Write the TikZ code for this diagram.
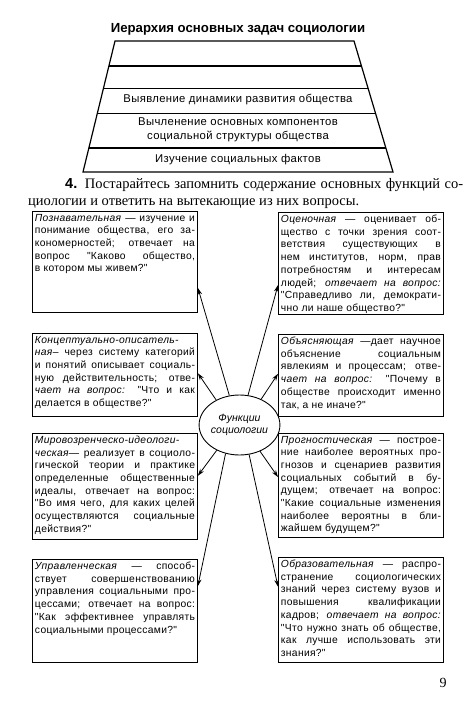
\documentclass[tikz,border=0pt]{standalone}
\usepackage{fontspec}
\setmainfont{Liberation Serif}
\setsansfont{Liberation Sans}
\newfontfamily\boxsf[LetterSpace=3]{Liberation Sans}
\usetikzlibrary{calc,arrows.meta,shapes.geometric}
\newcommand{\ftext}[2]{\parbox[c][#1][t]{160pt}{\tolerance=10000 \hyphenpenalty=10000 \exhyphenpenalty=10000 #2}}

\tikzset{
	fbox/.style={draw, line width=0.9pt, inner sep=2.5pt, anchor=north west, font=\boxsf\fontsize{10.3}{12.7}\selectfont},
	farrow/.style={line width=0.8pt, -{Stealth[length=7pt,width=4.5pt]}},
}

\begin{document}
\begin{tikzpicture}[x=1pt,y=-1pt]
			%%%%% START %%%%%
			\useasboundingbox[fill=white] (0,0) rectangle (474,725);
			
			\node[font=\sffamily\bfseries\fontsize{13.2}{15}\selectfont] (titul) at (238,29) {Иерархия основных задач социологии};
			
			\coordinate (tl) at (115,41);
			\coordinate (tr) at (354,41);
			\coordinate (bl) at (83,172);
			\coordinate (br) at (393,172);
			\draw[line width=1.2pt] (tl) -- (tr) -- (br) -- (bl) -- cycle;
			\foreach \f in {0.191,0.366,0.55,0.817}
				\draw[line width=1.1pt] ($(tl)!\f!(bl)$) -- ($(tr)!\f!(br)$);
			
			\node[font=\boxsf\fontsize{11.3}{13.5}\selectfont] (dinam) at (238,100) {Выявление динамики развития общества};
			\node[font=\boxsf\fontsize{11.3}{13.5}\selectfont, align=center] (komp) at (238,130) {Вычленение основных компонентов\\социальной структуры общества};
			\node[font=\boxsf\fontsize{11.3}{13.5}\selectfont] (fakt) at (238,160) {Изучение социальных фактов};
			
			\node[anchor=base west, inner sep=0pt, font=\fontsize{14.5}{17}\selectfont] (zad1) at (65,188) {\makebox[398pt][s]{\textsf{\bfseries 4.} Постарайтесь запомнить содержание основных функций со-}};
			\node[anchor=base west, inner sep=0pt, font=\fontsize{14.5}{17}\selectfont] (zad2) at (28,205) {циологии и ответить на вытекающие из них вопросы.};
			
			% left column
			\node[fbox] (pozn) at (32,211) {\ftext{96pt}{\emph{Познавательная} — изучение и\linebreak понимание общества, его за-\linebreak кономерностей; отвечает на\linebreak вопрос "Каково общество,\linebreak в котором мы живем?"}};
			\node[fbox] (konc) at (32,333) {\ftext{78pt}{\emph{Концептуально-описатель-}\linebreak \emph{ная}– через систему категорий\linebreak и понятий описывает социаль-\linebreak ную действительность; отве-\linebreak \emph{чает на вопрос:} "Что и как\linebreak делается в обществе?"}};
			\node[fbox] (mirov) at (32,433) {\ftext{101pt}{\emph{Мировозренческо-идеологи-}\linebreak \emph{ческая}— реализует в социоло-\linebreak гической теории и практике\linebreak определенные общественные\linebreak идеалы, отвечает на вопрос:\linebreak "Во имя чего, для каких целей\linebreak осуществляются социальные\linebreak действия?"}};
			\node[fbox] (uprav) at (32,559) {\ftext{98pt}{\emph{Управленческая} — способ-\linebreak ствует совершенствованию\linebreak управления социальными про-\linebreak цессами; отвечает на вопрос:\linebreak "Как эффективнее управлять\linebreak социальными процессами?"}};
			
			% right column
			\node[fbox] (ocen) at (278,212) {\ftext{97pt}{\emph{Оценочная} — оценивает об-\linebreak щество с точки зрения соот-\linebreak ветствия существующих в\linebreak нем институтов, норм, прав\linebreak потребностям и интересам\linebreak людей; \emph{отвечает на вопрос:}\linebreak "Справедливо ли, демократи-\linebreak чно ли наше общество?"}};
			\node[fbox] (obyas) at (278,334) {\ftext{77pt}{\emph{Объясняющая} —дает научное\linebreak объяснение социальным\linebreak явлекиям и процессам; отве-\linebreak \emph{чает на вопрос:} "Почему в\linebreak обществе происходит именно\linebreak так, а не иначе?"}};
			\node[fbox] (progn) at (278,433) {\ftext{99pt}{\emph{Прогностическая} — построе-\linebreak ние наиболее вероятных про-\linebreak гнозов и сценариев развития\linebreak социальных событий в бу-\linebreak дущем; отвечает на вопрос:\linebreak "Какие социальные изменения\linebreak наиболее вероятны в бли-\linebreak жайшем будущем?"}};
			\node[fbox] (obraz) at (278,557) {\ftext{100pt}{\emph{Образовательная} — распро-\linebreak странение социологических\linebreak знаний через систему вузов и\linebreak повышения квалификации\linebreak кадров; \emph{отвечает на вопрос:}\linebreak "Что нужно знать об обществе,\linebreak как лучше использовать эти\linebreak знания?"}};
			
			\node[draw, ellipse, line width=0.9pt, minimum width=67pt, minimum height=60pt, inner sep=0pt, align=center, font=\sffamily\itshape\fontsize{10.5}{12.5}\selectfont] (func) at (239.5,425) {Функции\\социологии};
			
			\draw[farrow] (func.109) -- ($(pozn.south east)!0.245!(pozn.north east)$);
			\draw[farrow] (func.133) -- ($(konc.south east)!0.52!(konc.north east)$);
			\draw[farrow] (func.228) -- ($(mirov.south east)!0.6!(mirov.north east)$);
			\draw[farrow] (func.244) -- ($(uprav.south east)!0.74!(uprav.north east)$);
			\draw[farrow] (func.74) -- ($(ocen.south west)!0.29!(ocen.north west)$);
			\draw[farrow] (func.50) -- ($(obyas.south west)!0.52!(obyas.north west)$);
			\draw[farrow] (func.308) -- ($(progn.south west)!0.58!(progn.north west)$);
			\draw[farrow] (func.288) -- ($(obraz.south west)!0.72!(obraz.north west)$);
			
			\node[font=\fontsize{14}{16}\selectfont] (str) at (443,683) {9};
			%%%%% END %%%%%
\end{tikzpicture}
\end{document}
